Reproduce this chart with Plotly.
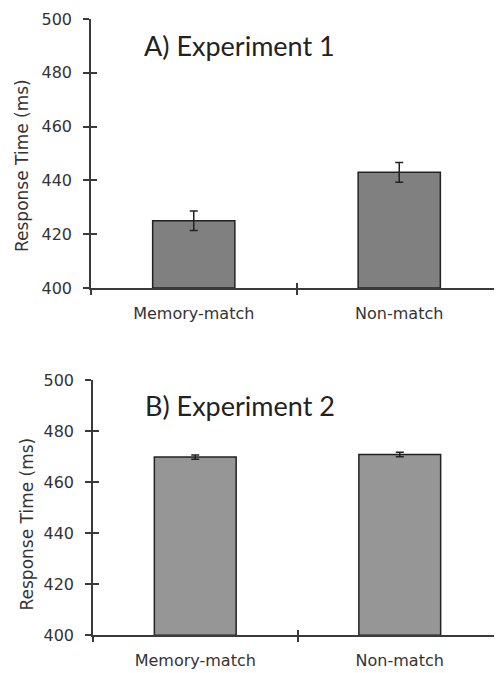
import plotly.graph_objects as go

categories = ["Memory-match", "Non-match"]
exp1_rt = [425, 443]
exp1_err = [3.6, 3.7]
exp2_rt = [469.8, 470.8]
exp2_err = [0.8, 0.9]
y_ticks = [400, 420, 440, 460, 480, 500]
panel_titles = ["A) Experiment 1", "B) Experiment 2"]
y_title = "Response Time (ms)"

OFF = 8  # page body margin
W, H = 502 - OFF, 673 - OFF


def px(x):
    return (x - OFF) / W


def py(y):
    return 1 - (y - OFF) / H


AX = "#3a3a3a"
TICKFONT = dict(family="DejaVu Sans", size=16, color="#333333")

fig = go.Figure()

fig.add_trace(go.Bar(
    x=categories, y=[v - 400 for v in exp1_rt], base=400, width=0.4,
    marker=dict(color="#808080", line=dict(color="#222222", width=1.5)),
    error_y=dict(type="data", array=exp1_err, color="#222222", thickness=1.5, width=4),
    xaxis="x", yaxis="y", showlegend=False))
fig.add_trace(go.Bar(
    x=categories, y=[v - 400 for v in exp2_rt], base=400, width=0.4,
    marker=dict(color="#969696", line=dict(color="#222222", width=1.5)),
    error_y=dict(type="data", array=exp2_err, color="#222222", thickness=1.5, width=4),
    xaxis="x2", yaxis="y2", showlegend=False))
# empty traces to register overlay axes (inside ticks)
fig.add_trace(go.Scatter(x=[], y=[], xaxis="x3", yaxis="y3", showlegend=False))
fig.add_trace(go.Scatter(x=[], y=[], xaxis="x4", yaxis="y4", showlegend=False))

top_dom = [py(288), py(19)]
bot_dom = [py(635.3), py(380)]
xdom_top = [px(91), 1.0]
xdom_bot = [px(93), 1.0]
XR = [-0.5, 1.5]


def main_x(dom, anchor):
    return dict(domain=dom, anchor=anchor, type="category", categoryorder="array",
                categoryarray=categories, range=XR, tickson="boundaries",
                ticks="outside", ticklen=5, tickwidth=1.5, tickcolor=AX,
                showline=True, linecolor=AX, linewidth=1.5, showgrid=False,
                zeroline=False, tickfont=dict(family="DejaVu Sans", size=16, color="#333333"),
                ticklabelstandoff=10, automargin=False, fixedrange=True)


def main_y(dom, anchor):
    return dict(domain=dom, anchor=anchor, range=[400, 500], tickmode="array",
                tickvals=y_ticks, ticks="outside", ticklen=6, tickwidth=1.5,
                tickcolor=AX, showline=True, linecolor=AX, linewidth=1.5,
                showgrid=False, zeroline=False, tickfont=TICKFONT,
                ticklabelstandoff=8, automargin=False)


def over_x(dom, over, anchor):
    return dict(domain=dom, overlaying=over, anchor=anchor, range=XR,
                tickmode="array", tickvals=[0.5], ticks="inside", ticklen=5,
                tickwidth=1.5, tickcolor=AX, showticklabels=False, showline=False,
                showgrid=False, zeroline=False, automargin=False)


def over_y(dom, over, anchor):
    return dict(domain=dom, overlaying=over, anchor=anchor, range=[400, 500],
                tickmode="array", tickvals=y_ticks, ticks="inside", ticklen=6,
                tickwidth=1.5, tickcolor=AX, showticklabels=False, showline=False,
                showgrid=False, zeroline=False, automargin=False)


fig.update_layout(
    template="none",
    width=W, height=H, margin=dict(l=0, r=0, t=0, b=0, pad=0),
    paper_bgcolor="white", plot_bgcolor="rgba(0,0,0,0)",
    bargap=0.6,
    xaxis=main_x(xdom_top, "y"), yaxis=main_y(top_dom, "x"),
    xaxis2=main_x(xdom_bot, "y2"), yaxis2=main_y(bot_dom, "x2"),
    xaxis3=over_x(xdom_top, "x", "y3"), yaxis3=over_y(top_dom, "y", "x3"),
    xaxis4=over_x(xdom_bot, "x2", "y4"), yaxis4=over_y(bot_dom, "y2", "x4"),
)

fig.add_annotation(text=panel_titles[0], xref="paper", yref="paper",
                   x=px(142), y=py(45), xanchor="left", yanchor="middle",
                   showarrow=False, font=dict(family="Lato", size=27, color="#222222"))
fig.add_annotation(text=panel_titles[1], xref="paper", yref="paper",
                   x=px(143), y=py(405), xanchor="left", yanchor="middle",
                   showarrow=False, font=dict(family="Lato", size=27, color="#222222"))
fig.add_annotation(text=y_title, xref="paper", yref="paper", textangle=-90,
                   x=px(22), y=py(166), xanchor="center", yanchor="middle",
                   showarrow=False, font=dict(family="DejaVu Sans", size=17, color="#333333"))
fig.add_annotation(text=y_title, xref="paper", yref="paper", textangle=-90,
                   x=px(26), y=py(524.5), xanchor="center", yanchor="middle",
                   showarrow=False, font=dict(family="DejaVu Sans", size=17, color="#333333"))

fig.write_html("out.html")
